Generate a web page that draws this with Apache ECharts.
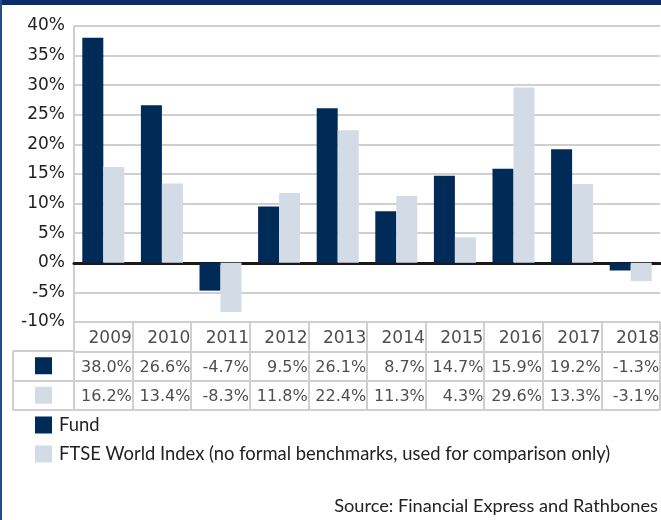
<!DOCTYPE html>
<html>
<head>
<meta charset="utf-8">
<script src="https://cdn.jsdelivr.net/npm/echarts@6/dist/echarts.min.js"></script>
<style>
  html, body { margin: 0; padding: 0; background: #fff; }
  #chart { width: 661px; height: 520px; }
</style>
</head>
<body>
<div id="chart"></div>
<script>
const years = ['2009', '2010', '2011', '2012', '2013', '2014', '2015', '2016', '2017', '2018'];
const fund = [38.0, 26.6, -4.7, 9.5, 26.1, 8.7, 14.7, 15.9, 19.2, -1.3];
const ftse = [16.2, 13.4, -8.3, 11.8, 22.4, 11.3, 4.3, 29.6, 13.3, -3.1];
const seriesNames = ['Fund', 'FTSE World Index (no formal benchmarks, used for comparison only)'];
const sourceText = 'Source: Financial Express and Rathbones';

const navy = '#002a57';
const light = '#d3dbe7';
const gridGray = '#cfcfcf';
const tableFont = 'DejaVu Sans';
const noteFont = 'Lato';

const chart = echarts.init(document.getElementById('chart'));

function cellLabel(texts, size) {
  return {
    show: true,
    position: 'inside',
    formatter: (p) => '{v|' + texts[p.dataIndex] + '}',
    rich: {
      v: { width: 57, align: 'right', fontSize: size, fontFamily: tableFont, color: '#222', padding: [3, 0, 0, 0] },
    },
  };
}

function tableRow(texts, row, size) {
  return {
    type: 'scatter',
    xAxisIndex: 1,
    yAxisIndex: 1,
    symbolSize: 0,
    silent: true,
    data: texts.map((t, i) => [i, row + 0.5]),
    label: cellLabel(texts, size),
  };
}

const pct = (v) => v.toFixed(1) + '%';

chart.setOption({
  animation: false,
  title: {
    text: sourceText,
    right: 3,
    top: 497,
    padding: 0,
    textStyle: { fontSize: 18.2, fontWeight: 'normal', fontFamily: noteFont, color: '#222' },
  },
  legend: {
    data: seriesNames,
    orient: 'vertical',
    left: 35,
    top: 416,
    padding: 0,
    itemWidth: 17,
    itemHeight: 17,
    itemGap: 11,
    icon: 'rect',
    selectedMode: false,
    textStyle: { fontSize: 18.4, fontFamily: noteFont, color: '#222', padding: [0, 0, 0, 2] },
  },
  graphic: [
    { type: 'rect', left: 0, top: 0, shape: { width: 661, height: 5 }, style: { fill: '#0c2b6b' } },
    { type: 'rect', left: 0, top: 0, shape: { width: 2, height: 520 }, style: { fill: '#2b4a8a' } },
  ],
  grid: [
    { left: 74, top: 26, width: 586, height: 296 },
    { left: 74, top: 322, width: 586, height: 88 },
    { left: 13, top: 351, width: 61, height: 59 },
  ],
  xAxis: [
    {
      gridIndex: 0,
      type: 'category',
      data: years,
      axisLine: { onZero: true, lineStyle: { color: '#1a1a1a', width: 3 } },
      axisTick: { show: false },
      axisLabel: { show: false },
    },
    {
      gridIndex: 1,
      type: 'category',
      data: years,
      axisLine: { show: false },
      axisTick: { show: false },
      axisLabel: { show: false },
      splitLine: { show: true, lineStyle: { color: gridGray, width: 2 } },
    },
    {
      gridIndex: 2,
      type: 'value',
      min: 0,
      max: 1,
      interval: 1,
      axisLine: { show: false },
      axisTick: { show: false },
      axisLabel: { show: false },
      splitLine: { show: true, lineStyle: { color: gridGray, width: 2 } },
    },
  ],
  yAxis: [
    {
      gridIndex: 0,
      type: 'value',
      min: -10,
      max: 40,
      interval: 5,
      axisLine: { show: true, lineStyle: { color: gridGray, width: 2 } },
      axisTick: { show: false },
      splitLine: { lineStyle: { color: gridGray, width: 2 } },
      axisLabel: {
        formatter: '{value}%',
        margin: 9,
        fontSize: 17,
        fontFamily: tableFont,
        color: '#222',
        padding: [4, 0, 0, 0],
      },
    },
    {
      gridIndex: 1,
      type: 'value',
      min: 0,
      max: 3,
      interval: 1,
      inverse: true,
      axisLine: { show: false },
      axisTick: { show: false },
      axisLabel: { show: false },
      splitLine: { show: true, lineStyle: { color: gridGray, width: 2 } },
    },
    {
      gridIndex: 2,
      type: 'value',
      min: 0,
      max: 2,
      interval: 1,
      inverse: true,
      axisLine: { show: false },
      axisTick: { show: false },
      axisLabel: { show: false },
      splitLine: { show: true, lineStyle: { color: gridGray, width: 2 } },
    },
  ],
  series: [
    {
      name: seriesNames[0],
      type: 'bar',
      data: fund,
      barWidth: 21,
      barGap: '0%',
      itemStyle: { color: navy },
    },
    {
      name: seriesNames[1],
      type: 'bar',
      data: ftse,
      barWidth: 21,
      barGap: '0%',
      itemStyle: { color: light },
    },
    tableRow(years, 0, 17),
    tableRow(fund.map(pct), 1, 16),
    tableRow(ftse.map(pct), 2, 16),
    {
      type: 'scatter',
      xAxisIndex: 2,
      yAxisIndex: 2,
      symbol: 'rect',
      symbolSize: 17,
      silent: true,
      data: [
        { value: [0.5, 0.5], itemStyle: { color: navy, opacity: 1 } },
        { value: [0.5, 1.5], itemStyle: { color: light, opacity: 1 } },
      ],
    },
  ],
});
</script>
</body>
</html>
